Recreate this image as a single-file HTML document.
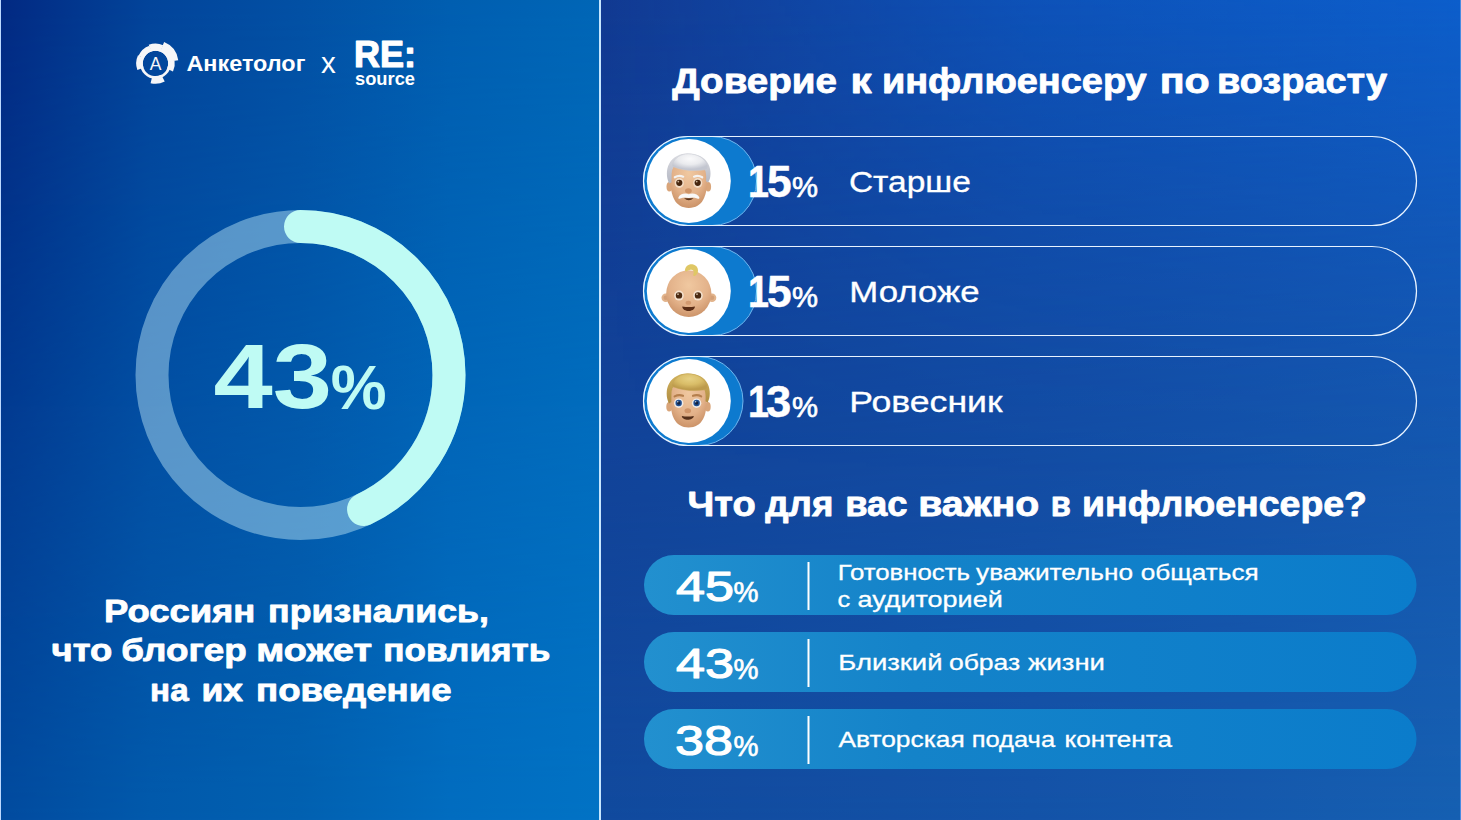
<!DOCTYPE html>
<html lang="ru">
<head>
<meta charset="utf-8">
<title>Доверие к инфлюенсеру</title>
<style>
  html, body { margin: 0; padding: 0; background: #114a9e; }
  body { width: 1461px; height: 820px; overflow: hidden; }
  svg { display: block; }
  text { font-family: "Liberation Sans", "DejaVu Sans", sans-serif; fill: #ffffff; }
  .b { font-weight: 700; }
  .cy { fill: #bffbf4; }
  .h { font-weight: 700; stroke: #ffffff; stroke-width: 0.8px; stroke-linejoin: round; }
  .d { font-weight: 400; stroke: #ffffff; stroke-width: 1.15px; stroke-linejoin: round; }
  .db { font-weight: 700; stroke: #ffffff; stroke-width: 0.5px; stroke-linejoin: round; }
  .pc { stroke: #ffffff; stroke-width: 0.7px; }
  .l { stroke: #ffffff; stroke-width: 0.3px; }
</style>
</head>
<body>
<svg width="1461" height="820" viewBox="0 0 1461 820">
  <defs>
    <!-- left panel gradients -->
    <linearGradient id="lTop" x1="0" y1="0" x2="600" y2="0" gradientUnits="userSpaceOnUse">
      <stop offset="0" stop-color="#022982"/>
      <stop offset="0.25" stop-color="#02449a"/>
      <stop offset="0.5" stop-color="#0250a4"/>
      <stop offset="0.75" stop-color="#005eb0"/>
      <stop offset="1" stop-color="#0066b6"/>
    </linearGradient>
    <linearGradient id="lBot" x1="0" y1="0" x2="600" y2="0" gradientUnits="userSpaceOnUse">
      <stop offset="0" stop-color="#024b9f"/>
      <stop offset="0.25" stop-color="#025aac"/>
      <stop offset="0.5" stop-color="#0261b1"/>
      <stop offset="0.75" stop-color="#026dc0"/>
      <stop offset="1" stop-color="#0273c5"/>
    </linearGradient>
    <!-- right panel gradients -->
    <linearGradient id="rTop" x1="601" y1="0" x2="1461" y2="0" gradientUnits="userSpaceOnUse">
      <stop offset="0" stop-color="#123a92"/>
      <stop offset="0.5" stop-color="#12449e"/>
      <stop offset="1" stop-color="#144fad"/>
    </linearGradient>
    <linearGradient id="rBot" x1="601" y1="0" x2="1461" y2="0" gradientUnits="userSpaceOnUse">
      <stop offset="0" stop-color="#114a9e"/>
      <stop offset="0.5" stop-color="#1453a8"/>
      <stop offset="1" stop-color="#1660b2"/>
    </linearGradient>
    <linearGradient id="rGlow" x1="601" y1="0" x2="1461" y2="0" gradientUnits="userSpaceOnUse">
      <stop offset="0" stop-color="#0078ff" stop-opacity="0"/>
      <stop offset="0.5" stop-color="#0078ff" stop-opacity="0.27"/>
      <stop offset="1" stop-color="#0078ff" stop-opacity="0.37"/>
    </linearGradient>
    <linearGradient id="vFade" x1="0" y1="0" x2="0" y2="820" gradientUnits="userSpaceOnUse">
      <stop offset="0" stop-color="#fff"/>
      <stop offset="1" stop-color="#000"/>
    </linearGradient>
    <linearGradient id="vFadeR" x1="0" y1="0" x2="0" y2="820" gradientUnits="userSpaceOnUse">
      <stop offset="0" stop-color="#fff"/>
      <stop offset="0.14" stop-color="#a8a8a8"/>
      <stop offset="0.29" stop-color="#585858"/>
      <stop offset="0.45" stop-color="#1c1c1c"/>
      <stop offset="0.58" stop-color="#000"/>
      <stop offset="1" stop-color="#000"/>
    </linearGradient>
    <mask id="mL" maskUnits="userSpaceOnUse" x="0" y="0" width="1461" height="820">
      <rect x="0" y="0" width="1461" height="820" fill="url(#vFade)"/>
    </mask>
    <mask id="mR" maskUnits="userSpaceOnUse" x="0" y="0" width="1461" height="820">
      <rect x="0" y="0" width="1461" height="820" fill="url(#vFadeR)"/>
    </mask>
    <linearGradient id="barG" x1="644" y1="0" x2="1416" y2="0" gradientUnits="userSpaceOnUse">
      <stop offset="0" stop-color="#2290cf"/>
      <stop offset="0.35" stop-color="#1483c9"/>
      <stop offset="1" stop-color="#0b7ccb"/>
    </linearGradient>
    <!-- emoji gradients -->
    <radialGradient id="skin" cx="0.5" cy="0.32" r="0.72">
      <stop offset="0" stop-color="#f0c8a0"/>
      <stop offset="0.6" stop-color="#e3b28a"/>
      <stop offset="1" stop-color="#c98f64"/>
    </radialGradient>
    <linearGradient id="hairWs" x1="0" y1="0" x2="0" y2="1">
      <stop offset="0" stop-color="#dcdde2"/>
      <stop offset="1" stop-color="#b4b7c3"/>
    </linearGradient>
    <linearGradient id="hairBs" x1="0" y1="0" x2="0" y2="1">
      <stop offset="0" stop-color="#d2b45f"/>
      <stop offset="1" stop-color="#b08c42"/>
    </linearGradient>
    <radialGradient id="hairW" cx="0.5" cy="0.3" r="0.62">
      <stop offset="0" stop-color="#fafafb"/>
      <stop offset="0.55" stop-color="#eaebee"/>
      <stop offset="1" stop-color="#c3c6d0"/>
    </radialGradient>
    <radialGradient id="hairB" cx="0.5" cy="0.3" r="0.62">
      <stop offset="0" stop-color="#e6d083"/>
      <stop offset="0.55" stop-color="#d9bd68"/>
      <stop offset="1" stop-color="#bd9b4c"/>
    </radialGradient>
  </defs>

  <!-- BACKGROUNDS -->
  <rect x="0" y="0" width="600" height="820" fill="url(#lBot)"/>
  <rect x="0" y="0" width="600" height="820" fill="url(#lTop)" mask="url(#mL)"/>
  <rect x="600" y="0" width="861" height="820" fill="url(#rBot)"/>
  <rect x="600" y="0" width="861" height="820" fill="url(#rTop)" mask="url(#mL)"/>
  <rect x="600" y="0" width="861" height="480" fill="url(#rGlow)" mask="url(#mR)"/>
  <!-- edge lines -->
  <rect x="0" y="0" width="1" height="820" fill="#bcd8ff"/>
  <rect x="599" y="0" width="2" height="820" fill="#c6e6ff"/>
  <rect x="1460" y="0" width="1" height="820" fill="#4a8ae0"/>

  <!-- RING -->
  <g id="ring" fill="none">
    <circle cx="300.5" cy="375" r="148.5" stroke="#c4ecf8" stroke-opacity="0.45" stroke-width="33"/>
    <circle cx="300.5" cy="375" r="148.5" stroke="#bffbf4" stroke-width="33" stroke-linecap="round"
            stroke-dasharray="401.2 933.1" transform="rotate(-90 300.5 375)"/>
  </g>

  <!-- LOGOS -->
  <g id="logos">
    <g id="gear" fill="none" stroke="#f6f6f8">
      <circle cx="155.5" cy="63.4" r="14.1" stroke-width="2.8"/>
      <path d="M 140.46 68.87 A 16.00 16.00 0 0 1 141.00 56.64" stroke-width="6.6"/>
      <path d="M 141.20 57.03 A 15.65 15.65 0 0 1 150.40 48.60" stroke-width="5.9"/>
      <path d="M 149.94 48.13 A 16.25 16.25 0 0 1 161.85 48.44" stroke-width="7.1"/>
      <path d="M 162.19 46.85 A 17.85 17.85 0 0 1 173.18 60.92" stroke-width="10.3"/>
      <path d="M 171.30 60.90 A 16.00 16.00 0 0 1 170.00 70.16" stroke-width="6.6"/>
      <path d="M 163.01 78.15 A 16.55 16.55 0 0 1 151.50 79.46" stroke-width="7.7"/>
    </g>
    <text x="155.5" y="69.6" font-size="17.5" text-anchor="middle" style="fill:#f6f6f8">A</text>
    <text class="b" y="70.8" font-size="22.7"><tspan x="186.4" textLength="119.0" lengthAdjust="spacingAndGlyphs">Анкетолог</tspan></text>
    <text x="321" y="72.6" font-size="29.5">x</text>
    <text class="h" x="354" y="66.7" font-size="36.6" textLength="62" style="stroke-width:1.2px" lengthAdjust="spacingAndGlyphs">RE:</text>
    <text class="b" x="355" y="84.6" font-size="18.5" textLength="60" lengthAdjust="spacingAndGlyphs">source</text>
  </g>

  <!-- LEFT TEXT -->
  <g id="left-text">
    <text class="b cy" x="213.5" y="408.3" font-size="90.8" textLength="118.5" lengthAdjust="spacingAndGlyphs">43</text>
    <text class="b cy" x="330.7" y="408.5" font-size="63" textLength="55.8" lengthAdjust="spacingAndGlyphs">%</text>
    <text class="h" y="621.8" font-size="31.2"><tspan x="104.0" textLength="151.3" lengthAdjust="spacingAndGlyphs">Россиян</tspan> <tspan x="268.1" textLength="220.8" lengthAdjust="spacingAndGlyphs">признались,</tspan></text>
    <text class="h" y="661.3" font-size="31.2"><tspan x="51.6" textLength="60.8" lengthAdjust="spacingAndGlyphs">что</tspan> <tspan x="121.2" textLength="125.5" lengthAdjust="spacingAndGlyphs">блогер</tspan> <tspan x="256.3" textLength="115.7" lengthAdjust="spacingAndGlyphs">может</tspan> <tspan x="383.3" textLength="167.0" lengthAdjust="spacingAndGlyphs">повлиять</tspan></text>
    <text class="h" y="700.9" font-size="31.2"><tspan x="150.1" textLength="38.5" lengthAdjust="spacingAndGlyphs">на</tspan> <tspan x="201.4" textLength="41.5" lengthAdjust="spacingAndGlyphs">их</tspan> <tspan x="256.1" textLength="195.5" lengthAdjust="spacingAndGlyphs">поведение</tspan></text>
  </g>

  <!-- AGE PILLS -->
  <g id="pills">
    <!-- pill 1 -->
    <g id="pill1">
      <rect x="643.5" y="136.5" width="113" height="89" rx="44.5" fill="#0d7acf" stroke="#6fb6ee" stroke-width="1"/>
      <rect x="643.5" y="136.5" width="773" height="89" rx="44.5" fill="none" stroke="#e8f3ff" stroke-width="1.2"/>
      <circle cx="688.8" cy="181" r="42" fill="#ffffff"/>
      <text class="db" y="197.2" font-size="44.4"><tspan x="748.0" textLength="21.0" lengthAdjust="spacingAndGlyphs">1</tspan><tspan x="766.9" textLength="24.6" lengthAdjust="spacingAndGlyphs">5</tspan></text>
      <text class="pc" x="792" y="196.8" font-size="30" textLength="26" lengthAdjust="spacingAndGlyphs">%</text>
      <text class="l" y="192" font-size="29.8"><tspan x="848.9" textLength="122.0" lengthAdjust="spacingAndGlyphs">Старше</tspan></text>
    </g>
    <!-- pill 2 -->
    <g id="pill2">
      <rect x="643.5" y="246.5" width="113" height="89" rx="44.5" fill="#0d7acf" stroke="#6fb6ee" stroke-width="1"/>
      <rect x="643.5" y="246.5" width="773" height="89" rx="44.5" fill="none" stroke="#e8f3ff" stroke-width="1.2"/>
      <circle cx="688.8" cy="291" r="42" fill="#ffffff"/>
      <text class="db" y="307.2" font-size="44.4"><tspan x="748.0" textLength="21.0" lengthAdjust="spacingAndGlyphs">1</tspan><tspan x="766.9" textLength="24.6" lengthAdjust="spacingAndGlyphs">5</tspan></text>
      <text class="pc" x="792" y="306.8" font-size="30" textLength="26" lengthAdjust="spacingAndGlyphs">%</text>
      <text class="l" y="302" font-size="29.8"><tspan x="849.3" textLength="130.3" lengthAdjust="spacingAndGlyphs">Моложе</tspan></text>
    </g>
    <!-- pill 3 -->
    <g id="pill3">
      <rect x="643.5" y="356.5" width="99.5" height="89" rx="44.5" fill="#0d7acf" stroke="#6fb6ee" stroke-width="1"/>
      <rect x="643.5" y="356.5" width="773" height="89" rx="44.5" fill="none" stroke="#e8f3ff" stroke-width="1.2"/>
      <circle cx="688.8" cy="401" r="42" fill="#ffffff"/>
      <text class="db" y="417.2" font-size="44.4"><tspan x="748.0" textLength="21.0" lengthAdjust="spacingAndGlyphs">1</tspan><tspan x="766.1" textLength="25.2" lengthAdjust="spacingAndGlyphs">3</tspan></text>
      <text class="pc" x="792" y="416.8" font-size="30" textLength="26" lengthAdjust="spacingAndGlyphs">%</text>
      <text class="l" y="412" font-size="29.8"><tspan x="849.2" textLength="153.4" lengthAdjust="spacingAndGlyphs">Ровесник</tspan></text>
    </g>
  </g>

  <!-- EMOJI FACES -->
  <g id="emoji-old" transform="translate(688.8 181)">
    <ellipse cx="-19.4" cy="5.8" rx="2.9" ry="4.8" fill="#d9a57a"/>
    <ellipse cx="19.4" cy="5.8" rx="2.9" ry="4.8" fill="#d9a57a"/>
    <path d="M -18.4 -2 C -18.4 -32 18.4 -32 18.4 -2 C 18.4 15 13.8 26.9 0 26.9 C -13.8 26.9 -18.4 15 -18.4 -2 Z" fill="url(#skin)"/>
    <!-- side / back hair -->
    <path d="M -19.6 2.4 C -22.6 -3 -22.8 -12 -19.5 -17.5 C -15.5 -24.5 -8 -27.6 -1 -27.4 C 8 -27.4 16 -24 19.5 -17 C 22.6 -11 22.4 -3 19.4 1.4 L 17.2 0.2 C 17.6 -4 17.4 -8 16 -12 L -14.6 -15 C -16.6 -12.5 -17.3 -9 -17.2 -5 L -17.3 1.2 Z" fill="url(#hairWs)"/>
    <!-- top volume -->
    <path d="M -16.4 -16.6 C -14.5 -23.5 -7 -27.4 -0.5 -27.2 C 8.5 -27.2 16.5 -22.6 18.8 -15.4 C 19.4 -13 18.4 -11.4 16.4 -11.2 C 6 -9.6 -6 -10.6 -14.2 -13.8 C -16.2 -14.4 -16.8 -15.4 -16.4 -16.6 Z" fill="url(#hairW)" stroke="#c9cbd3" stroke-width="0.5"/>
    <path d="M -14 -3.7 Q -10 -6.1 -5.6 -4.3" stroke="#f4f2f0" stroke-width="2.2" fill="none" stroke-linecap="round"/>
    <path d="M 5.2 -4.3 Q 9.5 -6.1 13.4 -3.7" stroke="#f4f2f0" stroke-width="2.2" fill="none" stroke-linecap="round"/>
    <ellipse cx="-9.5" cy="2" rx="4.6" ry="4.9" fill="#f2dcc6"/>
    <ellipse cx="8.9" cy="2" rx="4.6" ry="4.9" fill="#f2dcc6"/>
    <circle cx="-9.5" cy="1.8" r="3.1" fill="#47260f"/>
    <circle cx="8.9" cy="1.8" r="3.1" fill="#47260f"/>
    <circle cx="-10.5" cy="0.6" r="0.9" fill="#c9b49c"/>
    <circle cx="7.9" cy="0.6" r="0.9" fill="#c9b49c"/>
    <ellipse cx="-0.4" cy="9.8" rx="3.4" ry="2.5" fill="#cf9468"/>
    <path d="M -4.8 17.2 Q 0 21.4 4.8 17.2 Z" fill="#55301a"/>
    <path d="M -10.4 16.4 C -9.2 12.6 -3.2 11.6 0 13.2 C 3.2 11.6 9.2 12.6 10.6 16.4 C 10.8 17.6 9.6 17.9 8.4 17.4 C 5.2 16.2 2.6 16.4 0 17 C -2.6 16.4 -5.2 16.2 -8.6 17.4 C -9.8 17.9 -10.8 17.6 -10.4 16.4 Z" fill="#f8f8f9"/>
  </g>

  <g id="emoji-baby" transform="translate(688.8 291)">
    <circle cx="-23" cy="6.8" r="4.3" fill="#e2b48c"/>
    <circle cx="23.2" cy="6.8" r="4.3" fill="#e2b48c"/>
    <circle cx="-23" cy="6.8" r="2.3" fill="#d39f77"/>
    <circle cx="23.2" cy="6.8" r="2.3" fill="#d39f77"/>
    <ellipse cx="0" cy="2.6" rx="22.6" ry="23.4" fill="url(#skin)"/>
    <path d="M -3.8 -21.2 C -3.2 -25.6 1 -27.2 3.6 -26.8 C 8.2 -26.2 10.2 -21.5 8.8 -18.2 C 8 -16.2 6.4 -14.8 5.2 -15 C 4.2 -15.4 4.4 -16.6 4.8 -17.6 C 5.4 -19.4 4.6 -21 2.8 -21.2 C 1 -21.2 -0.6 -20.6 -1.8 -19.8 C -2.8 -19.2 -4 -19.8 -3.8 -21.2 Z" fill="#dfc765"/>
    <ellipse cx="-9.8" cy="4.6" rx="4.8" ry="5" fill="#f4e2cf"/>
    <ellipse cx="9.2" cy="4.6" rx="4.8" ry="5" fill="#f4e2cf"/>
    <circle cx="-9.8" cy="4.4" r="3.2" fill="#4b2a12"/>
    <circle cx="9.2" cy="4.4" r="3.2" fill="#4b2a12"/>
    <circle cx="-10.8" cy="3.2" r="0.9" fill="#c9b49c"/>
    <circle cx="8.2" cy="3.2" r="0.9" fill="#c9b49c"/>
    <ellipse cx="-0.4" cy="11.8" rx="2.8" ry="2" fill="#d39a70"/>
    <path d="M -6.6 15.4 Q 0 16.6 6.2 15.4 C 5.6 21.4 -6 21.4 -6.6 15.4 Z" fill="#5a2d16"/>
  </g>

  <g id="emoji-man" transform="translate(688.8 401)">
    <ellipse cx="-19.6" cy="5.8" rx="2.9" ry="4.8" fill="#d9a57a"/>
    <ellipse cx="19" cy="5.8" rx="2.9" ry="4.8" fill="#d9a57a"/>
    <path d="M -18.4 -2 C -18.4 -32 18 -32 18 -2 C 18 15 13.4 26.4 -0.2 26.4 C -13.8 26.4 -18.4 15 -18.4 -2 Z" fill="url(#skin)"/>
    <path d="M -19.8 2.4 C -22.8 -3 -23 -12 -19.7 -17.5 C -15.7 -24.5 -8 -27.6 -1 -27.4 C 8 -27.4 15.6 -24 19 -17 C 21.8 -11 21.6 -3 18.8 1.4 L 16.7 0.2 C 17.1 -4 16.9 -8 15.5 -12 L -14.8 -15 C -16.8 -12.5 -17.5 -9 -17.4 -5 L -17.5 1.2 Z" fill="url(#hairBs)"/>
    <path d="M -16.6 -16.6 C -14.7 -23.5 -7 -27.4 -0.7 -27.2 C 8.3 -27.2 16 -22.6 18.3 -15.4 C 18.9 -13 17.9 -11.4 15.9 -11.2 C 6 -9.6 -6 -10.6 -14.4 -13.8 C -16.4 -14.4 -17 -15.4 -16.6 -16.6 Z" fill="url(#hairB)" stroke="#c3a352" stroke-width="0.5"/>
    <path d="M -14.2 -4.6 Q -10 -6.8 -5.8 -5.2" stroke="#b57f4d" stroke-width="2.1" fill="none" stroke-linecap="round"/>
    <path d="M 4.2 -5.2 Q 8.5 -6.8 12.4 -4.6" stroke="#b57f4d" stroke-width="2.1" fill="none" stroke-linecap="round"/>
    <ellipse cx="-10.1" cy="2.2" rx="4.7" ry="4.8" fill="#efe9e4"/>
    <ellipse cx="7.8" cy="2.2" rx="4.7" ry="4.8" fill="#efe9e4"/>
    <circle cx="-10.1" cy="2" r="3.2" fill="#1f4f92"/>
    <circle cx="7.8" cy="2" r="3.2" fill="#1f4f92"/>
    <circle cx="-10.1" cy="2" r="1.7" fill="#14233f"/>
    <circle cx="7.8" cy="2" r="1.7" fill="#14233f"/>
    <circle cx="-11.1" cy="0.8" r="0.8" fill="#b8c8dc"/>
    <circle cx="6.8" cy="0.8" r="0.8" fill="#b8c8dc"/>
    <ellipse cx="-1" cy="9.8" rx="3.3" ry="2.5" fill="#cf9468"/>
    <path d="M -7 14.9 Q -1 16.1 5 14.9 C 4.4 20 -6.4 20 -7 14.9 Z" fill="#55301a"/>
  </g>

  <!-- IMPORTANCE BARS -->
  <g id="bars">
    <rect x="644" y="555" width="772.5" height="60" rx="30" fill="url(#barG)"/>
    <rect x="644" y="632" width="772.5" height="60" rx="30" fill="url(#barG)"/>
    <rect x="644" y="709" width="772.5" height="60" rx="30" fill="url(#barG)"/>
    <rect x="807.5" y="562" width="2" height="48" fill="#ffffff"/>
    <rect x="807.5" y="639" width="2" height="48" fill="#ffffff"/>
    <rect x="807.5" y="716" width="2" height="48" fill="#ffffff"/>

    <text class="d" x="676" y="600.7" font-size="42.4" textLength="58" lengthAdjust="spacingAndGlyphs">45</text>
    <text class="pc" x="733.5" y="601.5" font-size="30" textLength="25" lengthAdjust="spacingAndGlyphs">%</text>
    <text class="l" y="579.9" font-size="22.5"><tspan x="837.7" textLength="132.3" lengthAdjust="spacingAndGlyphs">Готовность</tspan> <tspan x="976.1" textLength="156.9" lengthAdjust="spacingAndGlyphs">уважительно</tspan> <tspan x="1140.8" textLength="117.9" lengthAdjust="spacingAndGlyphs">общаться</tspan></text>
    <text class="l" y="606.7" font-size="22.5"><tspan x="837.4" textLength="12.7" lengthAdjust="spacingAndGlyphs">с</tspan> <tspan x="857.5" textLength="145.2" lengthAdjust="spacingAndGlyphs">аудиторией</tspan></text>

    <text class="d" x="676" y="677.7" font-size="42.4" textLength="58" lengthAdjust="spacingAndGlyphs">43</text>
    <text class="pc" x="733.5" y="678.5" font-size="30" textLength="25" lengthAdjust="spacingAndGlyphs">%</text>
    <text class="l" y="670.3" font-size="22.5"><tspan x="838.2" textLength="104.3" lengthAdjust="spacingAndGlyphs">Близкий</tspan> <tspan x="948.9" textLength="71.3" lengthAdjust="spacingAndGlyphs">образ</tspan> <tspan x="1028.1" textLength="76.8" lengthAdjust="spacingAndGlyphs">жизни</tspan></text>

    <text class="d" x="675" y="754.7" font-size="42.4" textLength="58" lengthAdjust="spacingAndGlyphs">38</text>
    <text class="pc" x="733.5" y="755.5" font-size="30" textLength="25" lengthAdjust="spacingAndGlyphs">%</text>
    <text class="l" y="746.5" font-size="22.5"><tspan x="838.4" textLength="126.3" lengthAdjust="spacingAndGlyphs">Авторская</tspan> <tspan x="971.7" textLength="83.4" lengthAdjust="spacingAndGlyphs">подача</tspan> <tspan x="1064.5" textLength="107.5" lengthAdjust="spacingAndGlyphs">контента</tspan></text>
  </g>

  <!-- RIGHT HEADINGS -->
  <g id="headings">
    <text class="h" y="92.5" font-size="34.6"><tspan x="672.2" textLength="164.8" lengthAdjust="spacingAndGlyphs">Доверие</tspan> <tspan x="850.4" textLength="21.1" lengthAdjust="spacingAndGlyphs">к</tspan> <tspan x="881.9" textLength="264.8" lengthAdjust="spacingAndGlyphs">инфлюенсеру</tspan> <tspan x="1159.7" textLength="50.0" lengthAdjust="spacingAndGlyphs">по</tspan> <tspan x="1216.9" textLength="170.3" lengthAdjust="spacingAndGlyphs">возрасту</tspan></text>
    <text class="h" y="516.3" font-size="34.6"><tspan x="687.6" textLength="68.2" lengthAdjust="spacingAndGlyphs">Что</tspan> <tspan x="765.3" textLength="68.1" lengthAdjust="spacingAndGlyphs">для</tspan> <tspan x="845.2" textLength="62.4" lengthAdjust="spacingAndGlyphs">вас</tspan> <tspan x="918.2" textLength="121.0" lengthAdjust="spacingAndGlyphs">важно</tspan> <tspan x="1050.8" textLength="20.1" lengthAdjust="spacingAndGlyphs">в</tspan> <tspan x="1082.0" textLength="285.0" lengthAdjust="spacingAndGlyphs">инфлюенсере?</tspan></text>
  </g>
</svg>
</body>
</html>
